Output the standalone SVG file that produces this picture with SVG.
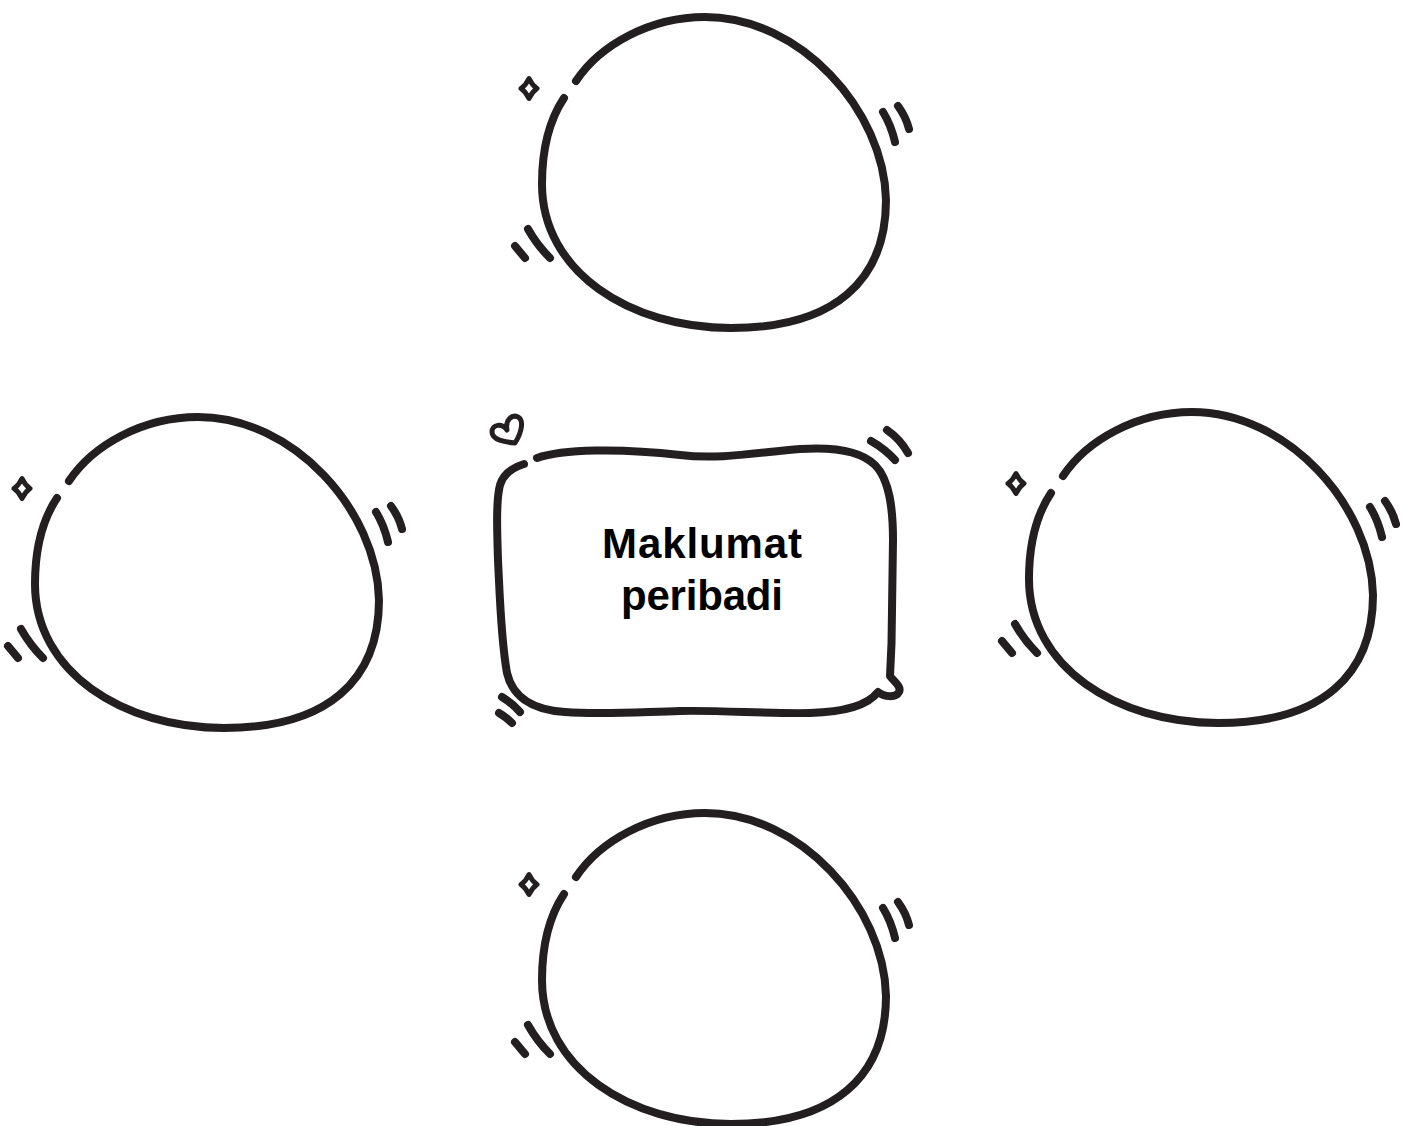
<svg xmlns="http://www.w3.org/2000/svg" xmlns:xlink="http://www.w3.org/1999/xlink" width="1411" height="1126" viewBox="0 0 1411 1126">
  <style>
    .ink { fill: none; stroke: #231f20; stroke-width: 8; stroke-linecap: round; stroke-linejoin: round; }
    .thin { fill: none; stroke: #231f20; stroke-width: 5; stroke-linecap: round; stroke-linejoin: round; }
    .label { font-family: "Liberation Sans", Helvetica, Arial, sans-serif; font-weight: bold; font-size: 42px; fill: #000; text-anchor: middle; }
  </style>
  <defs>
    <!-- hand-drawn bubble with sparkle and motion ticks -->
    <g id="bubble">
      <path class="ink" d="M564,98 C548,122 542,150 542,184 C542,272 630,328 731,328 C835,328 886,280 886,200 C884,110 800,17 705,17 C650,17 600,45 576,81"/>
      <path class="thin" stroke-width="5.5" d="M529,78.5 Q532,85 537,88.5 Q532,92 529,98.5 Q526,92 521,88.5 Q526,85 529,78.5 Z"/>
      <path class="ink" d="M883,112 Q891,125 895,142"/>
      <path class="ink" d="M898,106 Q906,117 909,129"/>
      <path class="ink" d="M528,229 Q537,245 550,258"/>
      <path class="ink" d="M515,246 L525,258"/>
    </g>
  </defs>

  <rect width="1411" height="1126" fill="#fff"/>

  <g id="node-top">
    <use href="#bubble" xlink:href="#bubble"/>
  </g>
  <g id="node-left">
    <use href="#bubble" xlink:href="#bubble" transform="translate(-507,400)"/>
  </g>
  <g id="node-right">
    <use href="#bubble" xlink:href="#bubble" transform="translate(487,395)"/>
  </g>
  <g id="node-bottom">
    <use href="#bubble" xlink:href="#bubble" transform="translate(0,796)"/>
  </g>

  <g id="node-center">
    <!-- wobbly rounded box with a small tail at lower right -->
    <path class="ink" stroke-width="8.5" d="M537,458 C562,449 620,448 680,455 C720,460 760,452 800,449 C830,447 860,450 875,465 C890,480 893,510 893,540 L892,610 C892,640 891,660 890,676 C893,681 902,686 899,692 C896,698 884,697 878,692 C868,705 845,712 810,713 C770,714 720,710 680,711 C640,712 600,715 565,712 C530,710 512,695 507,673 C501,640 500,600 498,560 C497,530 496,500 500,485 C503,475 511,468 524,464"/>
    <!-- heart -->
    <path class="thin" stroke-width="5.5" d="M515,443 C505,442 492,440 492,432 C492,424 502,423 507,430 C505,420 512,414 518,417 C524,420 522,432 515,443 Z"/>
    <!-- corner ticks -->
    <path class="ink" d="M887,430 Q900,439 908,453"/>
    <path class="ink" d="M871,441 Q885,449 895,460"/>
    <path class="ink" d="M502,697 Q512,703 520,712"/>
    <path class="ink" d="M499,713 Q506,717 512,723"/>
    <text class="label" x="702" y="558" textLength="200" lengthAdjust="spacing">Maklumat</text>
    <text class="label" x="702" y="610" textLength="162" lengthAdjust="spacing">peribadi</text>
  </g>
</svg>
